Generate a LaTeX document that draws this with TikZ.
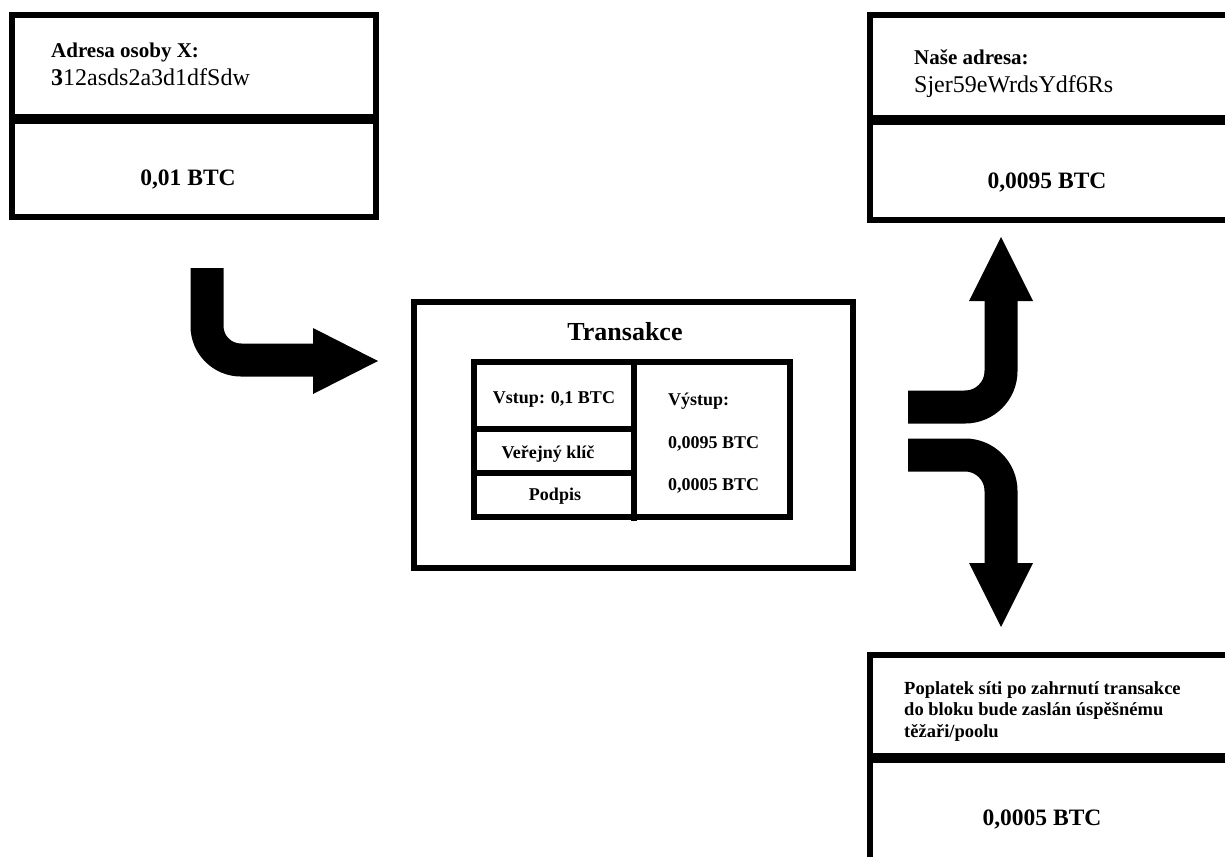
\documentclass[tikz,border=0pt]{standalone}
\usepackage{fontspec}
\setmainfont{Liberation Serif}
\begin{document}
\begin{tikzpicture}[x=1pt,y=-1pt,
  frame/.style={draw=black, line width=6.5pt},
  tframe/.style={draw=black, line width=5.5pt},
  sepline/.style={draw=black, line width=10pt},
  shaft/.style={draw=black, line width=33pt},
  head/.style={fill=black, draw=none},
  lbl/.style={inner sep=0pt, anchor=base west, font=\bfseries\fontsize{21}{25}\selectfont},
  addr/.style={inner sep=0pt, anchor=base west, font=\fontsize{24}{28}\selectfont},
  amt/.style={inner sep=0pt, anchor=base, font=\bfseries\fontsize{23.5}{28}\selectfont},
  cell/.style={inner sep=0pt, anchor=base, font=\bfseries\fontsize{18}{21}\selectfont},
  cellw/.style={inner sep=0pt, anchor=base west, font=\bfseries\fontsize{18}{21}\selectfont},
]
\clip (0,0) rectangle (1225,856);
\fill[white] (0,0) rectangle (1225,856);

% top-left box
\draw[frame] (12,15) rectangle (376,217);
\draw[sepline] (12,119) -- (376,119);
\node[lbl] (adrX) at (51,58) {Adresa osoby X:};
\node[addr] (adrXv) at (51,86) {\textbf{3}12asds2a3d1dfSdw};
\node[amt] (amtX) at (188,185) {0,01 BTC};

% top-right box
\draw[frame] (870,15) rectangle (1240,220);
\draw[sepline] (870,120) -- (1240,120);
\node[lbl] (nase) at (914,65) {Naše adresa:};
\node[addr] (nasev) at (914,93) {Sjer59eWrdsYdf6Rs};
\node[amt] (amtN) at (1047,188) {0,0095 BTC};

% bottom-right box
\draw[frame] (870,655) rectangle (1240,880);
\draw[sepline] (870,758) -- (1240,758);
\node[inner sep=0pt, anchor=north west, align=left, font=\bfseries\fontsize{18.5}{21.5}\selectfont] (fee) at (904,681)
  {Poplatek síti po zahrnutí transakce\\do bloku bude zaslán úspěšnému\\těžaři/poolu};
\node[amt] (amtF) at (1042,825) {0,0005 BTC};

% transaction box
\draw[tframe] (414,302) rectangle (853,568);
\node[inner sep=0pt, anchor=base, font=\bfseries\fontsize{26}{30}\selectfont] (tx) at (625,340) {Transakce};
\draw[tframe] (474,362) rectangle (790,517);
\draw[tframe] (634,362) -- (634,521);
\draw[tframe] (477,429) -- (634,429);
\draw[tframe] (474,473) -- (634,473);
\node[cell] (vstup) at (554,403) {Vstup: 0,1 BTC};
\node[cell] (klic) at (548,458) {Veřejný klíč};
\node[cell] (podpis) at (555,500) {Podpis};
\node[cellw] (vystup) at (668,405) {Výstup:};
\node[cellw] (out1) at (668,448) {0,0095 BTC};
\node[cellw] (out2) at (668,490) {0,0005 BTC};

% left arrow
\draw[shaft, rounded corners=34pt] (207,268) -- (207,360) -- (315,360);
\fill[head] (313,328) -- (378,361) -- (313,394) -- cycle;

% right up arrow
\draw[shaft, rounded corners=36pt] (908,407) -- (1001,407) -- (1001,299);
\fill[head] (969,301) -- (1001,237) -- (1033,301) -- cycle;

% right down arrow
\draw[shaft, rounded corners=36pt] (908,455) -- (1001,455) -- (1001,565);
\fill[head] (969,563) -- (1001,627) -- (1033,563) -- cycle;
\end{tikzpicture}
\end{document}
